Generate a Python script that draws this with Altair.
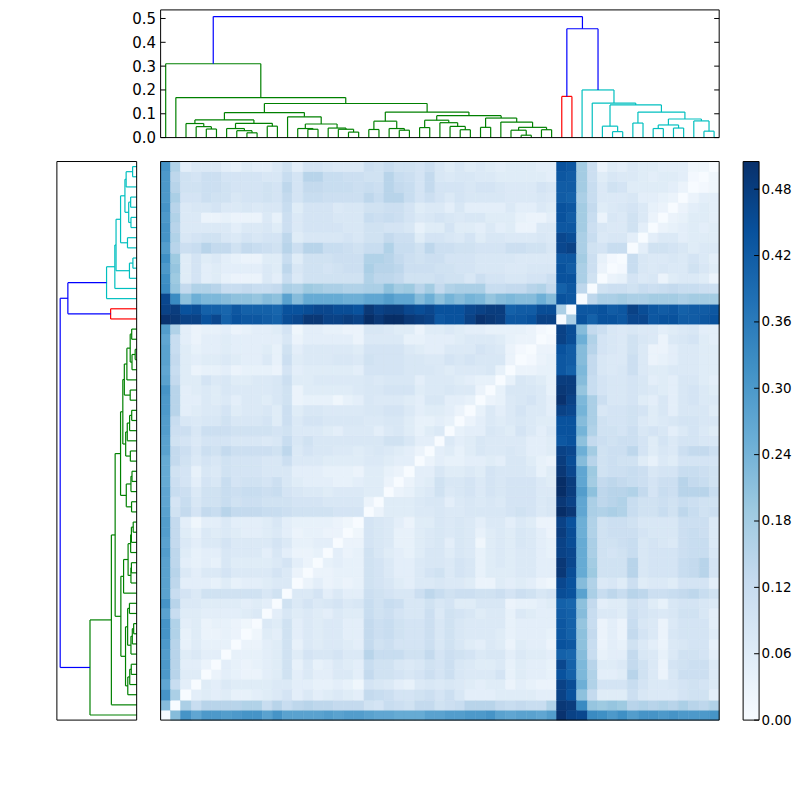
import altair as alt
import pandas as pd

N = 55
FONT = "DejaVu Sans"

# Dendrogram merges: ids >= 55 refer to earlier merges
link_a = [4,3,2,8,7,6,10,60,57,14,13,18,17,16,65,12,63,20,23,22,72,25,29,28,27,76,31,35,34,37,83,33,81,80,75,71,1,0,39,44,43,46,48,50,97,53,52,99,96,95,42,41,93,92]
link_b = [5,55,56,9,58,59,11,61,62,15,64,19,66,67,68,69,70,21,24,73,74,26,30,77,78,79,32,36,82,38,84,85,86,87,88,89,90,91,40,45,94,47,49,51,98,54,100,101,102,103,104,105,106,107]
link_h = [.036,.046,.059,.020,.029,.038,.048,.060,.074,.035,.038,.023,.035,.040,.057,.087,.105,.034,.031,.038,.069,.042,.033,.047,.0625,.073,.043,.010,.031,.033,.043,.065,.082,.092,.107,.143,.168,.310,.173,.025,.048,.061,.038,.040,.053,.027,.070,.078,.107,.137,.145,.200,.457,.508]
link_c = ["#008000"]*38 + ["#ff0000"] + ["#00bfbf"]*13 + ["#0000ff"]*2

# Lower triangle of the distance matrix, in hundredths
rows = [
[22],
[31,17],
[27,12,5],
[30,15,6,6],
[30,15,5,5,3],
[29,15,6,7,5,5],
[30,15,4,6,4,4,4],
[31,16,4,6,3,3,4,3],
[31,16,5,6,3,4,4,3,2],
[28,12,6,6,5,5,5,5,6,7],
[31,15,7,7,6,6,6,6,5,6,5],
[28,12,9,7,10,10,10,10,10,10,8,10],
[28,14,5,5,5,4,6,4,5,5,6,7,7],
[28,15,7,5,7,7,9,7,7,7,7,9,7,3],
[28,14,5,4,5,4,8,6,6,6,6,7,9,5,3],
[29,14,6,4,5,5,8,7,7,7,5,8,5,3,3,4],
[28,13,7,5,7,7,9,7,7,7,7,9,7,4,4,5,5],
[29,13,6,4,7,6,7,6,5,5,6,7,5,3,4,4,3,3],
[29,13,5,2,5,5,7,5,5,5,6,8,5,4,4,4,4,3,2],
[28,10,13,9,13,12,15,13,13,13,12,12,11,10,10,10,10,9,9,9],
[27,9,12,8,10,10,12,10,11,11,10,10,10,9,9,9,8,8,8,8,3],
[27,12,11,7,10,10,12,11,12,12,11,12,9,8,7,7,6,7,7,7,6,6],
[26,11,9,5,9,8,12,9,10,10,9,11,8,6,5,5,5,4,4,5,6,6,3],
[26,10,9,4,8,7,10,9,9,9,8,8,8,5,5,5,4,4,4,3,6,6,4,3],
[26,13,10,7,9,8,10,9,9,9,8,8,11,7,7,7,6,6,6,6,7,7,6,5,5],
[28,13,11,8,11,10,13,11,11,11,11,10,14,7,9,8,8,7,7,6,7,8,7,6,5,3],
[28,10,9,7,9,9,9,8,8,8,7,8,12,8,10,8,8,8,8,8,8,8,10,10,8,5,5],
[29,11,11,8,11,11,11,10,10,10,10,9,10,7,7,7,6,5,7,7,7,5,7,8,6,4,6,7],
[29,12,8,7,8,8,10,8,8,8,9,6,11,7,9,9,8,8,8,8,7,7,8,8,6,4,4,5,4],
[30,15,5,6,7,7,9,6,7,7,8,6,11,6,8,8,7,7,7,7,8,8,9,9,7,5,6,6,5,3],
[30,15,5,5,7,6,7,5,7,7,6,8,10,3,4,4,4,2,4,5,8,7,7,7,6,5,8,8,5,5,4],
[31,15,5,6,7,6,8,7,7,7,7,8,10,3,6,6,6,6,6,7,8,8,9,9,9,6,7,7,8,7,7,3],
[28,13,6,6,9,7,8,6,6,7,7,8,11,6,6,7,7,7,7,7,8,7,8,8,8,5,7,7,7,6,5,4,4],
[27,12,6,3,4,4,5,3,4,4,4,3,9,5,6,6,6,6,6,5,9,9,9,9,8,8,8,7,6,7,7,7,8,4],
[28,13,6,5,6,6,7,6,5,5,7,4,11,6,7,7,7,8,8,7,10,9,9,9,8,8,7,7,9,8,9,8,8,8,3],
[28,12,6,4,5,5,6,5,5,5,6,4,10,5,7,7,7,7,7,6,9,9,9,9,7,6,5,5,7,7,7,9,8,7,3,1],
[27,12,5,3,5,5,6,5,5,5,5,5,8,3,5,5,5,5,5,3,7,7,7,7,4,4,5,5,5,6,7,7,7,6,4,3,3],
[29,16,5,3,4,4,5,3,4,5,5,6,9,2,5,5,4,4,3,3,8,8,7,6,6,3,6,6,7,6,5,5,4,4,4,4,3,1],
[50,49,47,47,44,46,41,44,43,43,42,41,45,46,49,49,47,47,48,47,51,49,51,51,49,48,47,43,44,44,47,50,49,48,43,43,44,47,47],
[47,48,44,45,41,41,40,43,41,41,41,40,44,44,45,46,46,45,45,44,49,47,48,48,46,45,46,44,44,44,46,47,48,48,41,42,42,45,45,17],
[46,33,21,25,23,23,22,21,21,20,22,21,28,22,26,26,26,26,25,25,27,27,29,27,27,22,25,21,24,22,24,23,20,22,23,22,22,25,22,44,43],
[33,20,13,16,16,15,12,12,13,12,12,13,17,16,19,18,17,17,16,16,17,17,21,18,19,15,18,13,16,17,17,17,12,12,13,13,15,16,13,41,43,14],
[32,19,6,9,5,6,4,3,3,3,7,5,12,7,10,10,10,10,10,10,16,14,14,13,10,10,10,11,10,10,8,11,9,9,8,8,9,9,11,44,44,17,10],
[30,20,6,9,5,6,5,5,5,5,7,6,14,8,10,10,9,10,11,11,17,15,15,14,11,11,11,10,10,9,9,8,8,8,7,7,8,8,8,44,42,17,11,3],
[32,19,6,9,6,7,5,4,3,3,6,6,12,6,10,10,10,11,11,11,16,16,15,13,11,10,11,11,9,9,9,8,8,8,8,7,7,7,7,43,43,18,11,4,1],
[29,15,11,12,15,13,13,10,13,12,11,10,15,11,15,15,12,12,11,10,12,12,16,12,12,10,14,11,11,10,10,9,9,9,11,11,10,10,8,46,47,17,10,9,12,12],
[31,16,8,9,10,10,8,7,9,8,9,9,14,6,8,8,8,8,9,8,10,10,13,11,11,6,9,9,8,7,9,6,8,8,7,7,7,8,7,46,45,17,12,7,8,8,5],
[31,15,7,7,7,7,7,5,7,7,8,6,11,7,9,9,9,9,8,8,10,10,9,9,8,4,6,6,9,6,6,5,7,5,6,3,3,7,7,43,43,18,11,8,7,7,10,5],
[30,16,7,7,3,3,4,3,3,3,7,4,11,7,9,9,9,8,8,8,12,11,12,11,9,7,8,9,8,7,8,8,6,6,6,4,3,3,5,44,42,18,12,3,8,7,10,7,3],
[31,15,7,8,8,9,7,7,8,7,8,8,12,6,9,9,9,7,8,8,10,10,11,11,9,6,7,7,5,8,5,5,5,5,7,5,5,7,6,44,43,18,13,6,7,8,9,7,4,3],
[30,17,9,9,11,10,10,8,9,9,10,9,13,9,12,12,11,11,11,11,14,12,15,15,12,9,11,9,7,9,8,8,8,8,7,7,7,8,7,42,41,17,12,7,7,7,8,5,5,4,3],
[30,15,10,10,11,11,10,9,9,9,10,9,14,9,13,13,12,12,12,11,12,11,15,13,12,9,13,9,9,9,8,9,9,8,7,7,7,9,8,42,42,18,12,7,10,9,6,6,6,6,5,3],
[30,14,10,9,11,11,9,9,9,9,8,8,12,9,15,15,12,12,11,11,10,10,15,12,11,9,13,8,7,8,8,7,7,6,6,6,6,6,5,43,42,18,11,6,8,7,7,6,5,6,6,5,1],
[31,16,5,7,7,7,5,4,6,5,5,7,10,5,9,9,8,7,7,7,11,10,12,10,10,9,11,8,6,8,6,7,6,5,6,6,6,5,5,44,43,18,11,3,6,5,7,6,6,5,5,5,2,2],
]

vmax = 0.505
blues = ["#f7fbff","#deebf7","#c6dbef","#9ecae1","#6baed6","#4292c6","#2171b5","#08519c","#08306b"]
cbar_ticks = [0.0,0.06,0.12,0.18,0.24,0.30,0.36,0.42,0.48]
top_ticks = [0.0,0.1,0.2,0.3,0.4,0.5]
line_colors = ["#008000","#ff0000","#00bfbf","#0000ff"]

# heatmap table
cells = []
for i in range(N):
    for j in range(N):
        if i == j:
            v = 0
        elif j < i:
            v = rows[i-1][j]
        else:
            v = rows[j-1][i]
        cells.append({"c0": j, "c1": j+1, "r0": i, "r1": i+1, "v": v/100})
cells = pd.DataFrame(cells)

# dendrogram table: three straight pieces for each merge
pos = {i: i+0.5 for i in range(N)}
hgt = {i: 0.0 for i in range(N)}
segs = []
for k, (a, b, h, col) in enumerate(zip(link_a, link_b, link_h, link_c)):
    segs.append({"p0": pos[a], "p1": pos[a], "h0": hgt[a], "h1": h, "col": col})
    segs.append({"p0": pos[a], "p1": pos[b], "h0": h, "h1": h, "col": col})
    segs.append({"p0": pos[b], "p1": pos[b], "h0": hgt[b], "h1": h, "col": col})
    pos[N+k] = (pos[a]+pos[b])/2
    hgt[N+k] = h
segs = pd.DataFrame(segs)

one = pd.DataFrame({"a": [0]})
line_scale = alt.Scale(domain=line_colors, range=line_colors)

def frame(w, h):
    return alt.Chart(one).mark_rect(fillOpacity=0, stroke="black", strokeWidth=1).encode(
        x=alt.value(0), x2=alt.value(w), y=alt.value(0), y2=alt.value(h))

def blank(w, h):
    return alt.Chart(one).mark_rect(opacity=0).encode(
        x=alt.value(1), x2=alt.value(w-1), y=alt.value(1), y2=alt.value(h-1)).properties(
        width=w, height=h, view=alt.ViewBackground(stroke="transparent"))

TW, TH = 560, 128
top_scale = alt.Scale(domain=[0, 0.536], nice=False)
top_axis = alt.Axis(
    title=None, values=top_ticks, format=".1f", ticks=False, domain=False, grid=False,
    labelFont=FONT, labelFontSize=15, labelColor="black", labelPadding=5)
top_lines = alt.Chart(segs).mark_rule(strokeWidth=1.2).encode(
    x=alt.X("p0:Q", axis=None, scale=alt.Scale(domain=[0, N], nice=False)),
    x2="p1:Q",
    y=alt.Y("h0:Q", scale=top_scale, axis=top_axis),
    y2="h1:Q",
    color=alt.Color("col:N", scale=line_scale, legend=None))
tk = pd.DataFrame({"t": top_ticks})
top_tl = alt.Chart(tk).mark_rule(color="black", strokeWidth=1).encode(
    y=alt.Y("t:Q", scale=top_scale, axis=top_axis), x=alt.value(0), x2=alt.value(5))
top_tr = alt.Chart(tk).mark_rule(color="black", strokeWidth=1).encode(
    y=alt.Y("t:Q", scale=top_scale, axis=top_axis), x=alt.value(TW-5), x2=alt.value(TW))
top = alt.layer(top_lines, top_tl, top_tr, frame(TW, TH)).properties(width=TW, height=TH)

LW, LH = 80, 560
left_lines = alt.Chart(segs).mark_rule(strokeWidth=1.2).encode(
    x=alt.X("h0:Q", axis=None, scale=alt.Scale(domain=[0.53, 0], nice=False)),
    x2="h1:Q",
    y=alt.Y("p0:Q", axis=None, scale=alt.Scale(domain=[0, N], nice=False)),
    y2="p1:Q",
    color=alt.Color("col:N", scale=line_scale, legend=None))
left = alt.layer(left_lines, frame(LW, LH)).properties(width=LW, height=LH)

stops = [vmax*i/8 for i in range(9)]
blue_scale = alt.Scale(domain=stops, range=blues)
heat_rect = alt.Chart(cells).mark_rect(strokeWidth=0.6).encode(
    x=alt.X("c0:Q", axis=None, scale=alt.Scale(domain=[0, N], nice=False, round=True)),
    x2="c1:Q",
    y=alt.Y("r0:Q", axis=None, scale=alt.Scale(domain=[0, N], nice=False, round=True)),
    y2="r1:Q",
    fill=alt.Fill("v:Q", legend=None, scale=blue_scale),
    stroke=alt.Stroke("v:Q", legend=None, scale=blue_scale))
heat = alt.layer(heat_rect, frame(560, 560)).properties(width=560, height=560)

cb_rect = alt.Chart(one).mark_rect(
    fill=alt.LinearGradient(gradient="linear", x1=0, x2=0, y1=1, y2=0,
        stops=[alt.GradientStop(color=c, offset=i/8) for i, c in enumerate(blues)])
).encode(x=alt.value(0), x2=alt.value(16), y=alt.value(0), y2=alt.value(560))
cb_scale = alt.Scale(domain=[0, vmax], nice=False)
cb_ticks = alt.Chart(pd.DataFrame({"t": cbar_ticks})).mark_rule(color="black", strokeWidth=1).encode(
    y=alt.Y("t:Q", scale=cb_scale, axis=alt.Axis(
        orient="right", title=None, values=cbar_ticks, format=".2f", ticks=False, domain=False, grid=False,
        labelFont=FONT, labelFontSize=13.5, labelColor="black", labelPadding=2)),
    x=alt.value(11), x2=alt.value(16))
cb = alt.layer(cb_rect, cb_ticks, frame(16, 560)).properties(width=16, height=560)

chart = alt.concat(
    blank(80, TH), top, blank(16, TH),
    left, heat, cb,
    columns=3, spacing=24, bounds="flush", align="each",
).properties(
    padding={"left": 48, "top": 0, "right": 0, "bottom": 0},
).configure_view(strokeWidth=0)

chart.save("out.html", embed_options={"renderer": "svg", "actions": False})
